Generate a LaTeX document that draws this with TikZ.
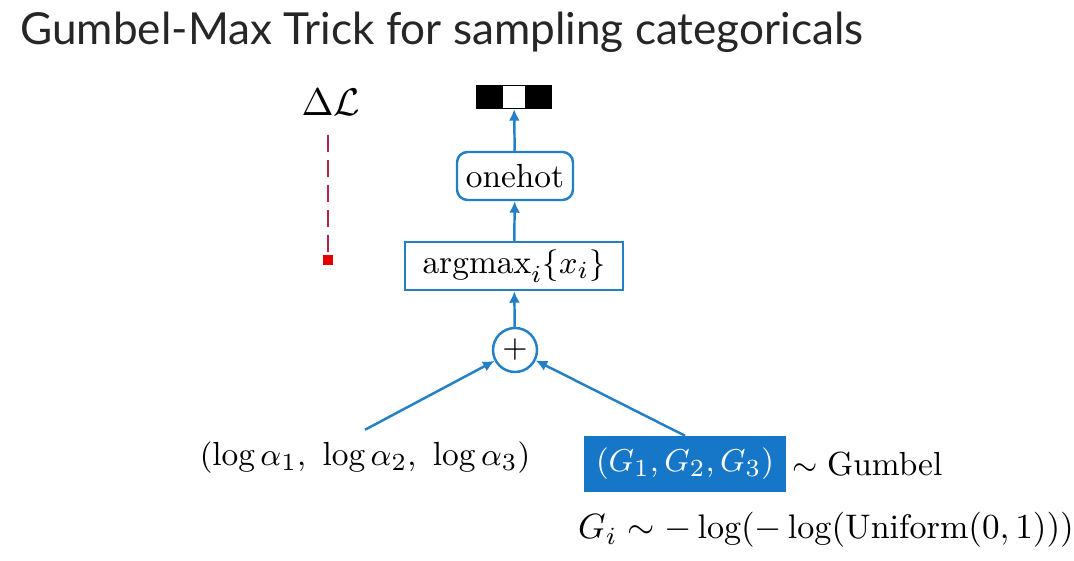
\documentclass[tikz,border=0pt]{standalone}
\usepackage{amsmath, amssymb}
\usepackage{fontspec}
\newfontfamily\titlefont{Lato}
\usepackage{tikz}
\usetikzlibrary{arrows.meta, positioning, shapes.geometric}
\definecolor{linkblue}{RGB}{35,128,196}
\definecolor{boxblue}{RGB}{22,119,200}
\definecolor{gradred}{RGB}{185,35,70}

\begin{document}
\begin{tikzpicture}[
        every node/.style={font=\fontsize{9.5}{11}\selectfont},
        flow/.style={-{Latex[length=1.15mm,width=1.1mm]}, draw=linkblue, line width=0.7pt},
        opbox/.style={draw=linkblue, line width=0.7pt, minimum height=0.48cm, inner sep=1pt},
        cell/.style={draw, line width=0.4pt, minimum width=0.24cm, minimum height=0.23cm, inner sep=0pt}
    ]
        \useasboundingbox (0,0) rectangle (10.74,5.61);

        \node[anchor=base west, font=\titlefont\fontsize{12.55}{14}\selectfont, text=black!85] at (0.08, 5.16) (title) {Gumbel-Max Trick for sampling categoricals};

        % output vector
        \node[cell, fill=white] at (5.14, 4.64) (v2) {};
        \node[cell, fill=black, left=0pt of v2] (v1) {};
        \node[cell, fill=black, right=0pt of v2] (v3) {};

        \node[opbox, rounded corners=3pt, minimum width=1.16cm] at (5.15, 3.85) (onehot) {onehot};
        \node[opbox, minimum width=2.18cm] at (5.14, 2.95) (argmax) {$\operatorname{argmax}_i\{x_i\}$};
        \node[circle, draw=linkblue, line width=0.7pt, minimum size=0.44cm, inner sep=0pt] at (5.15, 2.11) (plus) {$+$};

        \node at (3.65, 1.03) (logits) {$(\log\alpha_1,\ \log\alpha_2,\ \log\alpha_3)$};
        \node[fill=boxblue, text=white, minimum width=1.96cm, minimum height=0.55cm] at (6.85, 0.97) (gumbel) {$(G_1,G_2,G_3)$};
        \node[anchor=west, right=-0.06cm of gumbel] (dist) {$\sim\text{Gumbel}$};
        \node[font=\fontsize{9.7}{11}\selectfont] at (8.26, 0.31) (sample) {$G_i\sim-\log(-\log(\text{Uniform}(0,1)))$};

        % gradient
        \node[font=\fontsize{10.5}{12}\selectfont] at (3.31, 4.59) (dL) {$\Delta\mathcal{L}$};
        \node[fill=red!90!black, minimum size=0.1cm, inner sep=0pt] at (3.28, 3.01) (sq) {};
        \draw[gradred, line width=0.85pt, dash pattern=on 1.7mm off 0.8mm] (dL.south -| sq) ++(0,-0.07) coordinate (dtop) -- (sq);

        \draw[flow] (onehot) -- (v2);
        \draw[flow] (argmax) -- (onehot);
        \draw[flow] (plus) -- (argmax);
        \draw[flow] (logits.north) -- (plus);
        \draw[flow] (gumbel.north) -- (plus);
    \end{tikzpicture}
\end{document}
